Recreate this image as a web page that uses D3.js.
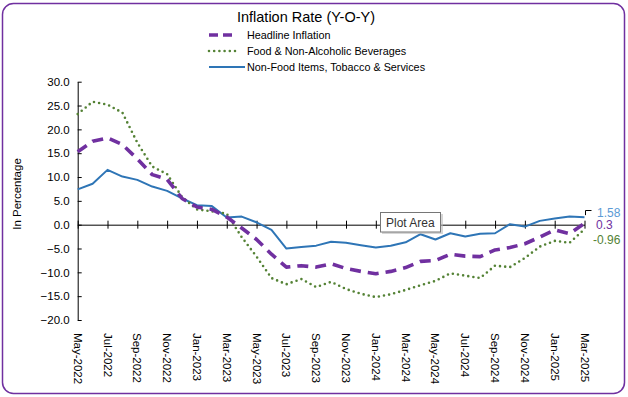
<!DOCTYPE html>
<html>
<head>
<meta charset="utf-8">
<script src="https://cdn.jsdelivr.net/npm/d3@7"></script>
<style>
  body { margin: 0; background: #fff; }
  text { font-family: "Liberation Sans", Arial, sans-serif; }
</style>
</head>
<body>
<div id="chart"></div>
<script>
// Months on the category axis (May-2022 .. Mar-2025)
const months = [
  "May-2022","Jun-2022","Jul-2022","Aug-2022","Sep-2022","Oct-2022","Nov-2022","Dec-2022",
  "Jan-2023","Feb-2023","Mar-2023","Apr-2023","May-2023","Jun-2023","Jul-2023","Aug-2023",
  "Sep-2023","Oct-2023","Nov-2023","Dec-2023","Jan-2024","Feb-2024","Mar-2024","Apr-2024",
  "May-2024","Jun-2024","Jul-2024","Aug-2024","Sep-2024","Oct-2024","Nov-2024","Dec-2024",
  "Jan-2025","Feb-2025","Mar-2025"
];

// Series values
const headline = [15.3, 17.5, 18.2, 16.8, 13.8, 10.5, 9.5, 5.5, 3.7, 3.2, 1.6, -0.7,
  -3.1, -6.2, -8.9, -8.6, -8.9, -8.2, -9.2, -9.8, -10.3, -9.8, -9.0, -7.7,
  -7.5, -6.2, -6.6, -6.7, -5.3, -4.8, -4.0, -2.6, -1.1, -1.9, 0.3];

const food = [23.2, 25.8, 25.2, 23.5, 17.2, 12.2, 10.6, 5.8, 3.2, 2.8, 2.3, -2.6,
  -6.7, -11.2, -12.5, -11.4, -13.1, -12.0, -13.5, -14.5, -15.2, -14.6, -13.7, -12.7,
  -11.8, -10.2, -10.7, -11.2, -8.6, -8.9, -7.0, -4.6, -3.4, -3.8, -0.96];

const nonFood = [7.4, 8.6, 11.5, 10.1, 9.4, 8.0, 7.1, 5.5, 4.1, 3.9, 1.5, 1.7,
  0.5, -1.1, -5.0, -4.7, -4.4, -3.6, -3.8, -4.3, -4.8, -4.4, -3.7, -2.0,
  -3.1, -1.8, -2.5, -1.9, -1.8, 0.1, -0.4, 0.8, 1.3, 1.7, 1.58];

const yTicks = [30, 25, 20, 15, 10, 5, 0, -5, -10, -15, -20];

const seriesNames = ["Headline Inflation", "Food & Non-Alcoholic Beverages", "Non-Food Items, Tobacco & Services"];
const lastLabels = ["0.3", "-0.96", "1.58"];

const width = 628, height = 397;

const svg = d3.select("#chart")
  .append("svg")
    .attr("width", width)
    .attr("height", height);

// chart border (rounded, purple)
svg.append("rect")
  .attr("x", 2.5).attr("y", 3.5)
  .attr("width", 622).attr("height", 390)
  .attr("rx", 11)
  .attr("fill", "#fff")
  .attr("stroke", "#7030A0")
  .attr("stroke-width", 1.5);

// scales
const x = d3.scalePoint()
  .domain(months)
  .range([77.7, 584.5]);

const y = d3.scaleLinear()
  .domain([-20, 30])
  .range([320, 81.7]);

// title
svg.append("text")
  .attr("x", 306).attr("y", 22)
  .attr("text-anchor", "middle")
  .attr("font-size", 14.5)
  .attr("fill", "#000")
  .text("Inflation Rate (Y-O-Y)");

// series styles
const styles = [
  {data: headline, color: "#7030A0", width: 3.6, dash: "11,7", cap: "butt", labelColor: "#7030A0"},
  {data: food, color: "#548235", width: 2.6, dash: "0,5.2", cap: "round", labelColor: "#548235"},
  {data: nonFood, color: "#2E75B6", width: 2, dash: null, cap: "butt", labelColor: "#5B9BD5"}
];

// legend
const legendEnd = [232, 240, 245];
const legend = svg.append("g").attr("class", "legend");
styles.forEach((s, i) => {
  const ly = 35 + i * 16;
  legend.append("line")
    .attr("x1", 209).attr("x2", legendEnd[i])
    .attr("y1", ly).attr("y2", ly)
    .attr("stroke", s.color)
    .attr("stroke-width", s.width)
    .attr("stroke-linecap", s.cap)
    .attr("stroke-dasharray", i === 0 ? "9,5" : s.dash);
  legend.append("text")
    .attr("x", 247).attr("y", ly + 4)
    .attr("font-size", 10.8)
    .text(seriesNames[i]);
});

// y axis
const yAxis = svg.append("g")
  .attr("transform", `translate(${x(months[0])},0)`)
  .call(d3.axisLeft(y).tickValues(yTicks).tickFormat(d3.format(".1f")).tickSizeInner(4).tickSizeOuter(0));
yAxis.select(".domain").attr("stroke", "#000");
yAxis.selectAll(".tick line").attr("x2", 4).attr("stroke", "#000");
yAxis.selectAll(".tick text")
  .attr("x", -8)
  .attr("font-size", 11.5)
  .attr("font-family", "Liberation Sans, Arial, sans-serif")
  .attr("fill", "#000");

// y title
svg.append("text")
  .attr("transform", "translate(21,194) rotate(-90)")
  .attr("text-anchor", "middle")
  .attr("font-size", 11.5)
  .text("In Percentage");

// x axis at zero line, ticks every two months
const tickMonths = months.filter((d, i) => i % 2 === 0);
const xAxis = svg.append("g")
  .attr("transform", `translate(0,${y(0)})`)
  .call(d3.axisBottom(x).tickValues(tickMonths).tickSize(4).tickSizeOuter(0).tickFormat(""));
xAxis.select(".domain").attr("stroke", "#000");
xAxis.selectAll(".tick line").attr("y1", -4).attr("stroke", "#000");

// x labels at bottom, rotated
svg.append("g")
  .selectAll("text")
  .data(tickMonths)
  .join("text")
    .attr("transform", d => `translate(${x(d) - 4},333) rotate(90)`)
    .attr("font-size", 11.5)
    .text(d => d);

// lines
const line = d3.line()
  .x((d, i) => x(months[i]))
  .y(d => y(d));

svg.append("g")
  .attr("class", "lines")
  .selectAll("path")
  .data([styles[2], styles[1], styles[0]])
  .join("path")
    .attr("d", s => line(s.data))
    .attr("fill", "none")
    .attr("stroke", s => s.color)
    .attr("stroke-width", s => s.width)
    .attr("stroke-linecap", s => s.cap)
    .attr("stroke-linejoin", "round")
    .attr("stroke-dasharray", s => s.dash);

// end labels
const lastX = x(months[months.length - 1]);
const lblY = [225, 240, 212.5];
const lblX = [596, 593, 597];
svg.append("path")
  .attr("d", `M${lastX + 1},${y(nonFood[nonFood.length - 1]) - 2}V${lblY[2] - 2}H${lastX + 7}`)
  .attr("fill", "none")
  .attr("stroke", "#000")
  .attr("stroke-width", 1);
styles.forEach((s, i) => {
  svg.append("text")
    .attr("x", lblX[i]).attr("y", lblY[i] + 4)
    .attr("font-size", 12)
    .attr("fill", s.labelColor)
    .text(lastLabels[i]);
});

// "Plot Area" tooltip as seen on the screenshot
const tip = svg.append("g").attr("transform", "translate(380,212)");
tip.append("rect")
  .attr("x", 2).attr("y", 2).attr("width", 61).attr("height", 20)
  .attr("fill", "#bbb").attr("opacity", 0.6);
tip.append("rect")
  .attr("x", 0.5).attr("y", 0.5).attr("width", 60).attr("height", 19.5)
  .attr("fill", "#fff").attr("stroke", "#767676");
tip.append("text")
  .attr("x", 6).attr("y", 14.5)
  .attr("font-size", 12)
  .attr("fill", "#333")
  .text("Plot Area");
</script>
</body>
</html>
